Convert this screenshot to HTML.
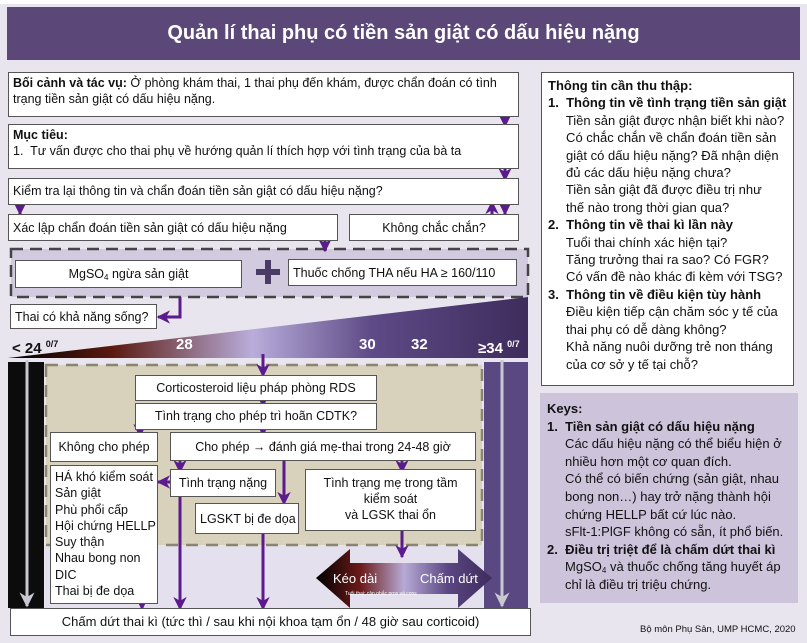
<!DOCTYPE html>
<html><head><meta charset="utf-8"><style>
*{margin:0;padding:0;box-sizing:border-box}
body{width:807px;height:643px;background:#fff;position:relative;overflow:hidden;font-family:"Liberation Sans","DejaVu Sans",sans-serif;color:#111}
.b{position:absolute;background:#fff;border:1px solid #555;font-size:12.5px;line-height:16px;padding:2px 4px;white-space:nowrap}
.c{text-align:center}
.t{position:absolute;font-size:12.5px;line-height:17px;white-space:nowrap}
sub{line-height:0;vertical-align:-2px}
svg{position:absolute;left:0;top:0}
</style></head><body>
<svg width="807" height="643">
<defs>
<linearGradient id="g1" x1="0" x2="1" y1="0" y2="0">
<stop offset="0" stop-color="#000"/><stop offset="0.2" stop-color="#5a1a10"/><stop offset="0.47" stop-color="#b9addb"/><stop offset="0.7" stop-color="#5e4a86"/><stop offset="1" stop-color="#3d2c5c"/></linearGradient>
<linearGradient id="g2" x1="0" x2="1" y1="0" y2="0">
<stop offset="0" stop-color="#000"/><stop offset="0.25" stop-color="#6a1a18"/><stop offset="0.5" stop-color="#b7aad6"/><stop offset="0.75" stop-color="#5a4682"/><stop offset="1" stop-color="#3d2c5c"/></linearGradient>
<marker id="m" viewBox="0 0 10 10" refX="9" refY="5" markerWidth="4.5" markerHeight="4.5" orient="auto"><path d="M0,0 L10,5 L0,10 L3,5z" fill="#5b1a8e"/></marker>
<marker id="mg" viewBox="0 0 10 10" refX="9" refY="5" markerWidth="5" markerHeight="5" orient="auto"><path d="M0,0 L10,5 L0,10 L3,5z" fill="#c8c8d0"/></marker>
</defs>
<rect x="0" y="0" width="807" height="643" fill="#e9e5ef"/>
<rect x="7" y="7" width="793" height="53" fill="#5b4878"/>
<rect x="0" y="0" width="807" height="4" fill="#fff"/>
<rect x="11" y="249" width="517" height="48" fill="#d2cadf" stroke="#444" stroke-width="2.5" stroke-dasharray="12,7"/>
<polygon points="8,358 528,297 528,358" fill="url(#g1)"/>
<rect x="8" y="362" width="36" height="246" fill="#0c0c0c"/>
<rect x="484" y="362" width="44" height="246" fill="#5a4882"/>
<rect x="45" y="545" width="438" height="63" fill="#e4e0ee"/>
<rect x="46" y="365" width="436" height="180" fill="#d8d1bc" stroke="#8a8570" stroke-width="2.5" stroke-dasharray="12,8"/>
<line x1="27" y1="360" x2="27" y2="606" stroke="#c8c8d0" stroke-width="3" marker-end="url(#mg)"/>
<line x1="502" y1="360" x2="502" y2="606" stroke="#c8c8d0" stroke-width="3" marker-end="url(#mg)"/>
<polygon points="316,578 350,549 350,563 458,563 458,549 492,578 458,608 458,594 350,594 350,608" fill="url(#g2)"/>
<rect x="540" y="393" width="258" height="210" fill="#cdc4dc"/>
<rect x="256" y="269" width="24" height="6" fill="#4a3a66"/><rect x="265" y="260" width="6" height="24" fill="#4a3a66"/>
<g stroke="#5b1a8e" stroke-width="3" fill="none" marker-end="url(#m)">
<line x1="505" y1="110" x2="505" y2="126"/>
<line x1="505" y1="162" x2="505" y2="180"/>
<line x1="20" y1="198" x2="20" y2="214"/>
<line x1="505" y1="200" x2="505" y2="214"/>
<line x1="492" y1="216" x2="492" y2="202"/>
<line x1="325" y1="234" x2="325" y2="251"/>
<polyline points="180,297 180,317 158,317"/>
<line x1="263" y1="354" x2="263" y2="376"/>
<line x1="263" y1="393" x2="263" y2="406"/>
<line x1="263" y1="422" x2="263" y2="435"/>
<line x1="140" y1="422" x2="140" y2="436"/>
<line x1="180" y1="455" x2="180" y2="472"/>
<line x1="284" y1="460" x2="284" y2="504"/>
<line x1="402" y1="455" x2="402" y2="472"/>
<line x1="170" y1="482" x2="158" y2="482"/>
<line x1="180" y1="496" x2="180" y2="609"/>
<line x1="263" y1="533" x2="263" y2="609"/>
<line x1="402" y1="530" x2="402" y2="557"/>
<line x1="142" y1="594" x2="142" y2="609"/>
</g>
</svg>
<div class="t" style="left:7px;top:20px;width:793px;text-align:center;color:#fff;font-size:20px;font-weight:bold;line-height:26px">Quản lí thai phụ có tiền sản giật có dấu hiệu nặng</div>
<div class="b" style="left:8px;top:72px;width:511px;height:45px;white-space:normal"><b>Bối cảnh và tác vụ:</b> Ở phòng khám thai, 1 thai phụ đến khám, được chẩn đoán có tình trạng tiền sản giật có dấu hiệu nặng.</div>
<div class="b" style="left:8px;top:124px;width:511px;height:45px"><b>Mục tiêu:</b><br>1.&nbsp; Tư vấn được cho thai phụ về hướng quản lí thích hợp với tình trạng của bà ta</div>
<div class="b" style="left:8px;top:178px;width:511px;height:27px;padding-top:4px">Kiểm tra lại thông tin và chẩn đoán tiền sản giật có dấu hiệu nặng?</div>
<div class="b" style="left:8px;top:214px;width:330px;height:27px;padding-top:5px">Xác lập chẩn đoán tiền sản giật có dấu hiệu nặng</div>
<div class="b c" style="left:349px;top:214px;width:170px;height:27px;padding-top:5px">Không chắc chắn?</div>
<div class="b c" style="left:15px;top:260px;width:227px;height:28px;padding-top:5px">MgSO<sub style="font-size:8px">4</sub> ngừa sản giật</div>
<div class="b" style="left:288px;top:259px;width:229px;height:27px;padding-top:5px">Thuốc chống THA nếu HA ≥ 160/110</div>
<div class="b" style="left:10px;top:304px;width:147px;height:25px;padding-top:4px">Thai có khả năng sống?</div>
<div class="t" style="left:12px;top:336px;font-size:15px;font-weight:bold">&lt; 24 <sup style="font-size:9px">0/7</sup></div>
<div class="t" style="left:176px;top:336px;font-size:15px;font-weight:bold;color:#fff">28</div>
<div class="t" style="left:359px;top:336px;font-size:15px;font-weight:bold;color:#fff">30</div>
<div class="t" style="left:411px;top:336px;font-size:15px;font-weight:bold;color:#fff">32</div>
<div class="t" style="left:478px;top:336px;font-size:15px;font-weight:bold;color:#fff">≥34 <sup style="font-size:9px">0/7</sup></div>
<div class="b c" style="left:135px;top:375px;width:242px;height:26px;padding-top:4px">Corticosteroid liệu pháp phòng RDS</div>
<div class="b c" style="left:135px;top:403px;width:242px;height:27px;padding-top:4px">Tình trạng cho phép trì hoãn CDTK?</div>
<div class="b c" style="left:50px;top:432px;width:108px;height:30px;padding-top:6px">Không cho phép</div>
<div class="b c" style="left:170px;top:432px;width:306px;height:29px;padding-top:6px">Cho phép → đánh giá mẹ-thai trong 24-48 giờ</div>
<div class="b" style="left:50px;top:465px;width:108px;height:139px;line-height:16.3px;padding-top:3px">HÁ khó kiểm soát<br>Sản giật<br>Phù phổi cấp<br>Hội chứng HELLP<br>Suy thận<br>Nhau bong non<br>DIC<br>Thai bị đe dọa</div>
<div class="b c" style="left:170px;top:469px;width:106px;height:28px;padding-top:5px">Tình trạng nặng</div>
<div class="b c" style="left:195px;top:503px;width:104px;height:31px;padding-top:7px">LGSKT bị đe dọa</div>
<div class="b c" style="left:305px;top:469px;width:171px;height:62px;padding-top:5px">Tình trạng mẹ trong tầm<br>kiểm soát<br>và LGSK thai ổn</div>
<div class="t" style="left:333px;top:570px;color:#fff;font-size:13px">Kéo dài</div>
<div class="t" style="left:420px;top:570px;color:#fff;font-size:13px">Chấm dứt</div>
<div class="t" style="left:345px;top:591px;color:#fff;font-size:5px;line-height:7px">Tuổi thai: cân nhắc pros và cons</div>
<div class="b c" style="left:10px;top:608px;width:521px;height:28px;padding-top:5px;font-size:13px">Chấm dứt thai kì (tức thì / sau khi nội khoa tạm ổn / 48 giờ sau corticoid)</div>
<div class="b" style="left:541px;top:72px;width:253px;height:314px;line-height:17.4px;padding:4px 6px;font-size:13px"><b>Thông tin cần thu thập:</b><br><b>1.&nbsp; Thông tin về tình trạng tiền sản giật</b><br>&nbsp;&nbsp;&nbsp;&nbsp; Tiền sản giật được nhận biết khi nào?<br>&nbsp;&nbsp;&nbsp;&nbsp; Có chắc chắn về chẩn đoán tiền sản<br>&nbsp;&nbsp;&nbsp;&nbsp; giật có dấu hiệu nặng? Đã nhận diện<br>&nbsp;&nbsp;&nbsp;&nbsp; đủ các dấu hiệu nặng chưa?<br>&nbsp;&nbsp;&nbsp;&nbsp; Tiền sản giật đã được điều trị như<br>&nbsp;&nbsp;&nbsp;&nbsp; thế nào trong thời gian qua?<br><b>2.&nbsp; Thông tin về thai kì lần này</b><br>&nbsp;&nbsp;&nbsp;&nbsp; Tuổi thai chính xác hiện tại?<br>&nbsp;&nbsp;&nbsp;&nbsp; Tăng trưởng thai ra sao? Có FGR?<br>&nbsp;&nbsp;&nbsp;&nbsp; Có vấn đề nào khác đi kèm với TSG?<br><b>3.&nbsp; Thông tin về điều kiện tùy hành</b><br>&nbsp;&nbsp;&nbsp;&nbsp; Điều kiện tiếp cận chăm sóc y tế của<br>&nbsp;&nbsp;&nbsp;&nbsp; thai phụ có dễ dàng không?<br>&nbsp;&nbsp;&nbsp;&nbsp; Khả năng nuôi dưỡng trẻ non tháng<br>&nbsp;&nbsp;&nbsp;&nbsp; của cơ sở y tế tại chỗ?</div>
<div class="t" style="left:547px;top:400px;line-height:17.6px;font-size:13px"><b>Keys:</b><br><b>1.&nbsp; Tiền sản giật có dấu hiệu nặng</b><br>&nbsp;&nbsp;&nbsp;&nbsp; Các dấu hiệu nặng có thể biểu hiện ở<br>&nbsp;&nbsp;&nbsp;&nbsp; nhiều hơn một cơ quan đích.<br>&nbsp;&nbsp;&nbsp;&nbsp; Có thể có biến chứng (sản giật, nhau<br>&nbsp;&nbsp;&nbsp;&nbsp; bong non…) hay trở nặng thành hội<br>&nbsp;&nbsp;&nbsp;&nbsp; chứng HELLP bất cứ lúc nào.<br>&nbsp;&nbsp;&nbsp;&nbsp; sFlt-1:PlGF không có sẵn, ít phổ biến.<br><b>2.&nbsp; Điều trị triệt để là chấm dứt thai kì</b><br>&nbsp;&nbsp;&nbsp;&nbsp; MgSO<sub style="font-size:8px">4</sub> và thuốc chống tăng huyết áp<br>&nbsp;&nbsp;&nbsp;&nbsp; chỉ là điều trị triệu chứng.</div>
<div class="t" style="left:640px;top:621px;font-size:9.5px">Bộ môn Phụ Sản, UMP HCMC, 2020</div>
</body></html>
